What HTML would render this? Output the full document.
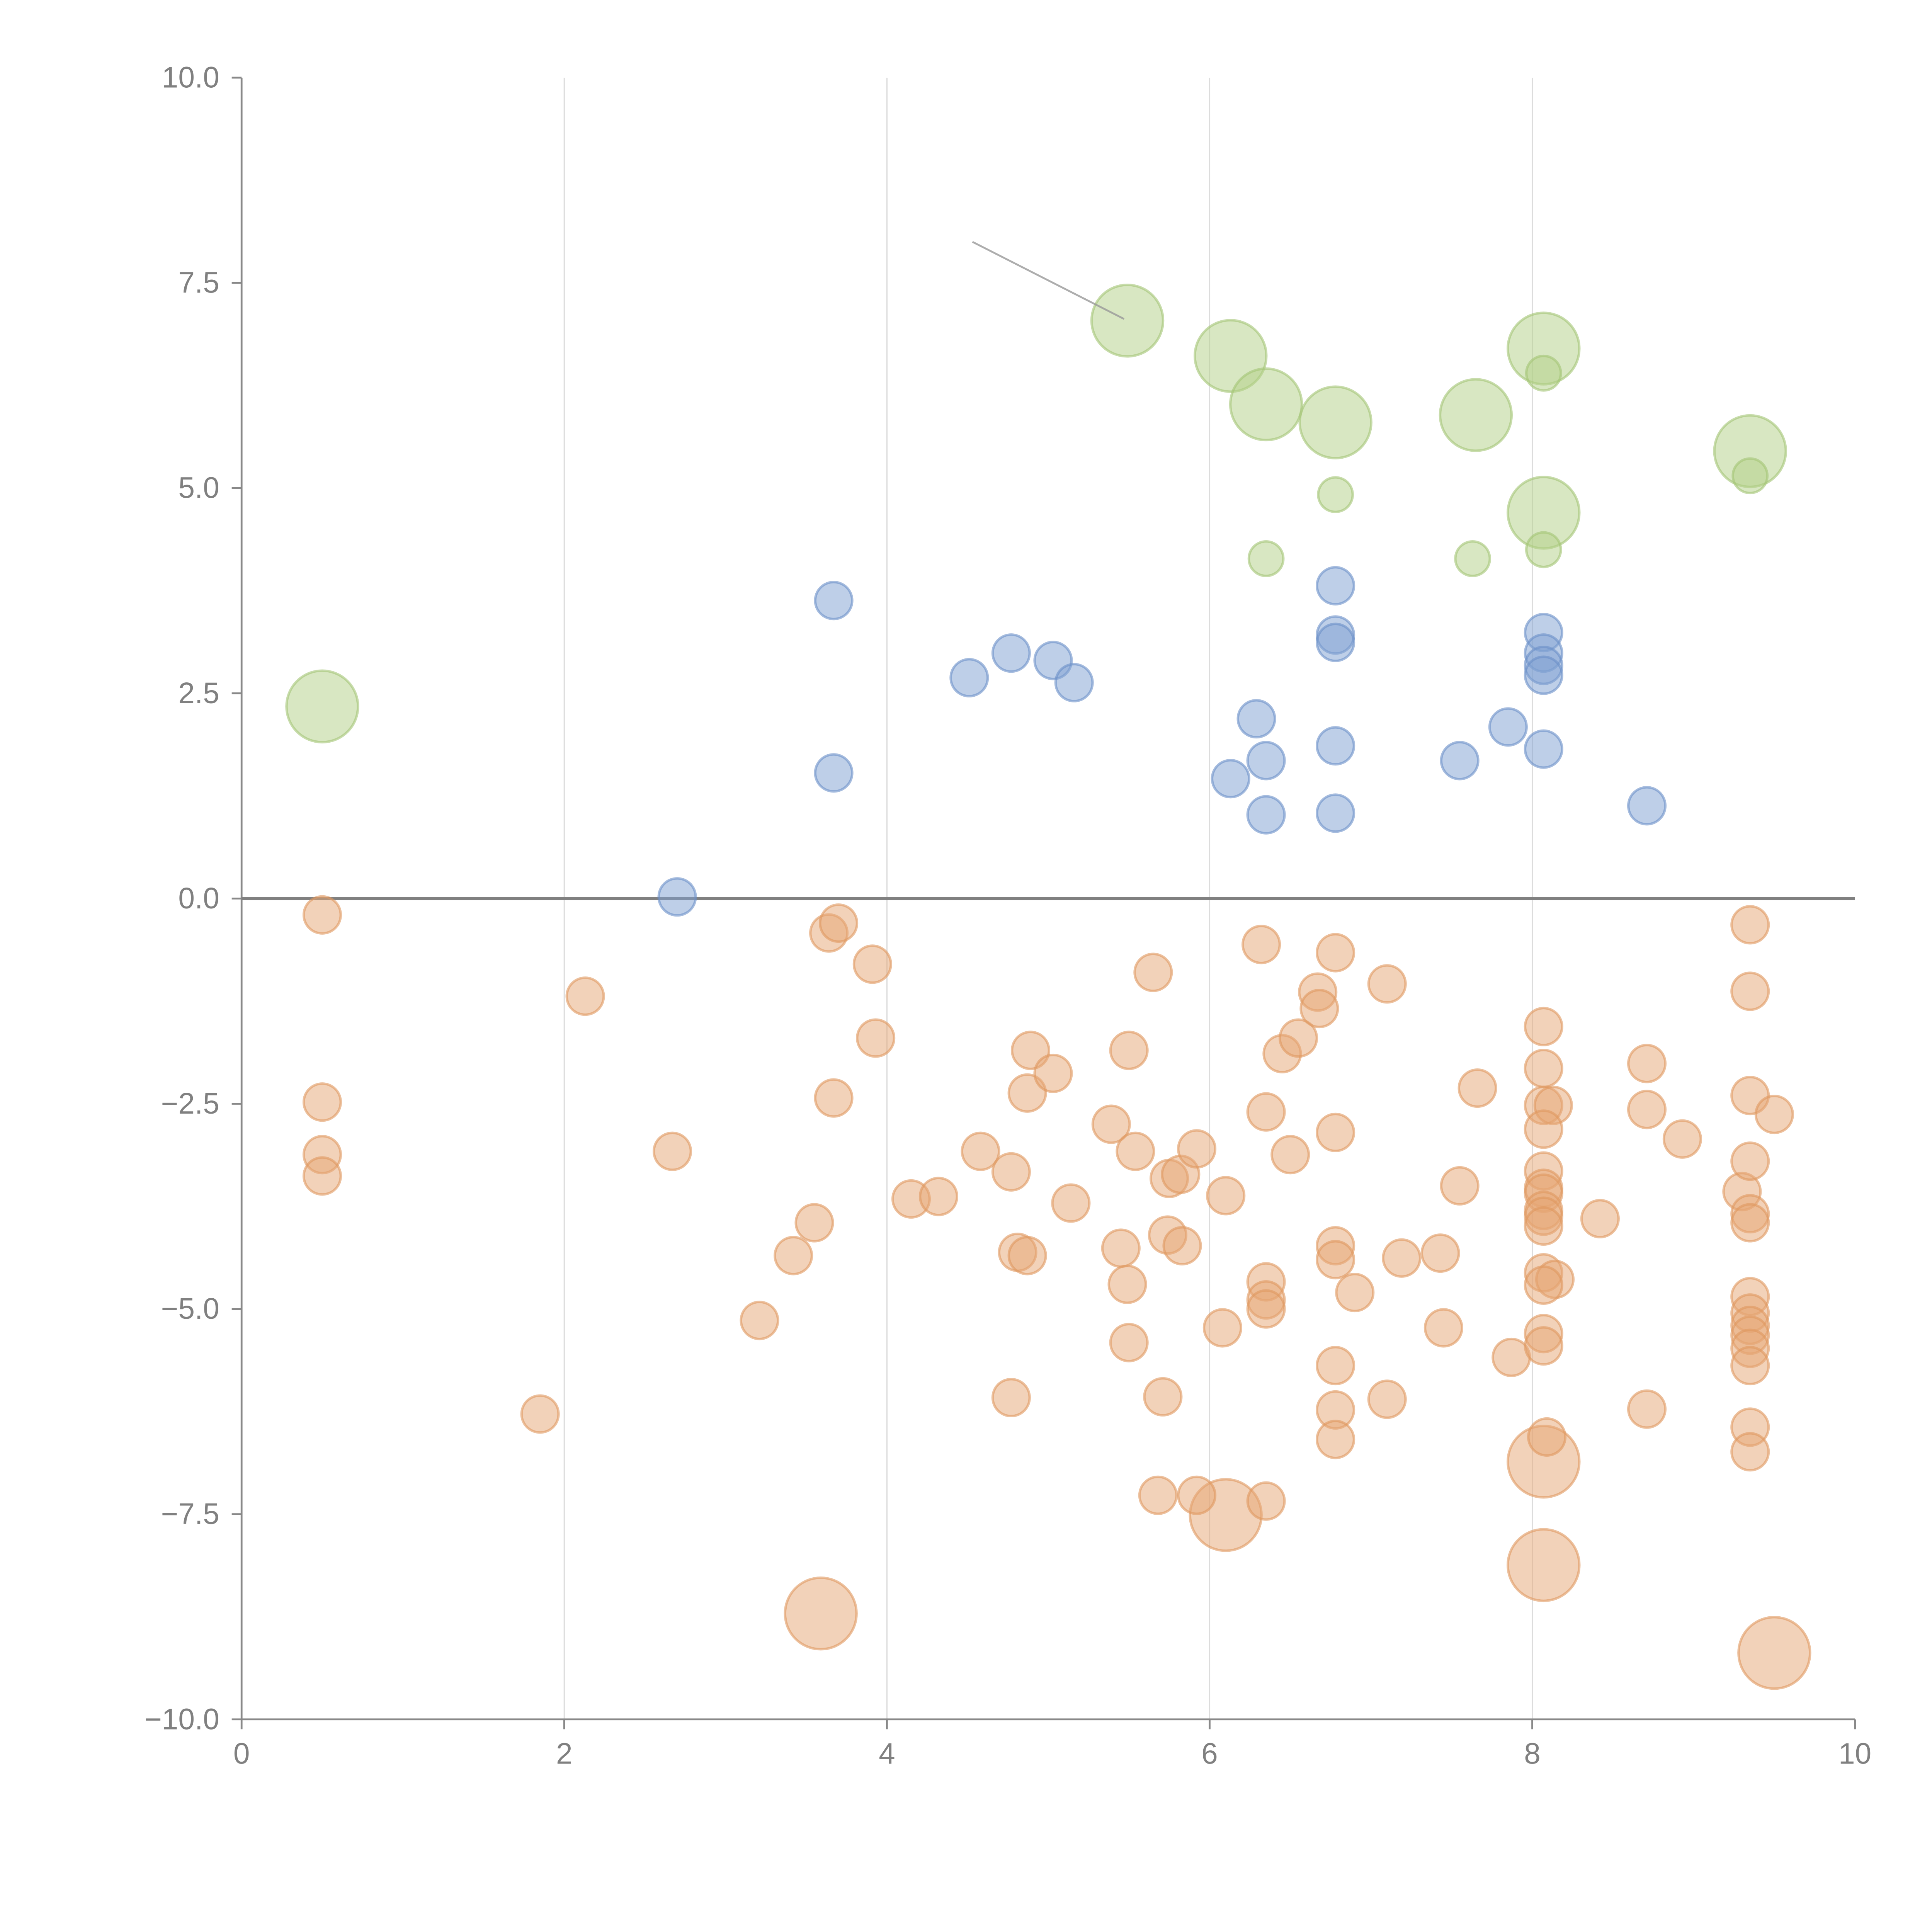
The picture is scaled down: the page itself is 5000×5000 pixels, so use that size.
<!DOCTYPE html>
<html><head><meta charset="utf-8"><style>html,body{margin:0;padding:0;background:#fff}svg{display:block}</style></head>
<body>
<svg id="chart" width="5000" height="5000" viewBox="0 0 1567.5 1567.5" xmlns="http://www.w3.org/2000/svg" font-family="Liberation Sans, Arial, sans-serif">
<g id="grid"></g>
<g id="axes"></g>
<g id="marks"></g>
</svg>
<script>
const xTicks = [0, 2, 4, 6, 8, 10];
const yTicks = [-10, -7.5, -5, -2.5, 0, 2.5, 5, 7.5, 10];
const yTickLabels = ["\u221210.0", "\u22127.5", "\u22125.0", "\u22122.5", "0.0", "2.5", "5.0", "7.5", "10.0"];
const greenBigX = [5.49, 6.13, 6.35, 6.78, 7.65, 8.07, 9.35, 8.07, 0.50];
const greenBigY = [7.04, 6.61, 6.02, 5.80, 5.89, 6.70, 5.45, 4.70, 2.34];
const greenX = [8.07, 6.78, 6.35, 7.63, 8.07, 9.35];
const greenY = [6.40, 4.92, 4.14, 4.14, 4.25, 5.15];
const blueX = [3.67,3.67,2.70,4.51,4.77,5.03,5.16,6.29,6.13,6.35,6.35,6.78,6.78,6.78,6.78,6.78,7.55,7.85,8.07,8.07,8.07,8.07,8.07,8.71];
const blueY = [3.63,1.53,0.02,2.69,2.99,2.90,2.63,2.19,1.46,1.68,1.02,3.81,3.21,3.12,1.86,1.04,1.68,2.09,3.24,2.99,2.84,2.72,1.82,1.13];
const orangeBigX = [3.59, 6.10, 8.07, 8.07, 9.50];
const orangeBigY = [-8.71, -7.51, -6.86, -8.12, -9.19];
const orangeX = [0.50,0.50,0.50,0.50,2.13,2.67,1.85,3.21,3.42,3.55,3.64,3.70,3.91,3.93,3.67,4.15,4.32,4.58,4.77,4.89,4.87,5.03,4.81,4.87,5.14,4.77,5.39,5.50,5.54,5.65,5.45,5.49,5.50,5.71,5.68,5.75,5.82,5.92,5.74,5.83,6.10,6.08,5.92,6.32,6.35,6.35,6.35,6.35,6.35,6.50,6.45,6.55,6.67,6.68,6.78,6.78,6.78,6.78,6.78,6.78,6.78,6.90,7.10,7.10,7.19,7.43,7.45,7.55,7.66,7.87,8.07,8.07,8.07,8.13,8.07,8.07,8.07,8.07,8.07,8.07,8.07,8.07,8.14,8.07,8.07,8.07,8.09,8.42,8.71,8.71,8.71,8.93,9.30,9.35,9.35,9.35,9.35,9.35,9.35,9.50,9.35,9.35,9.35,9.35,9.35,9.35,9.35,9.35];
const orangeY = [-0.20,-2.48,-3.12,-3.38,-1.19,-3.08,-6.28,-5.14,-4.35,-3.95,-0.42,-0.30,-0.80,-1.70,-2.43,-3.66,-3.63,-3.08,-3.33,-1.85,-2.37,-2.13,-4.31,-4.35,-3.71,-6.08,-2.75,-1.85,-3.08,-0.90,-4.26,-4.70,-5.41,-6.07,-7.27,-3.41,-3.36,-3.05,-4.10,-4.23,-3.62,-5.23,-7.27,-0.56,-2.60,-4.67,-4.89,-5.00,-7.34,-3.12,-1.89,-1.70,-1.14,-1.34,-0.66,-2.85,-4.23,-4.40,-5.69,-6.23,-6.59,-4.80,-1.04,-6.10,-4.38,-4.32,-5.23,-3.50,-2.31,-5.59,-1.56,-2.07,-2.52,-2.52,-2.81,-3.32,-3.53,-3.59,-3.80,-3.87,-3.99,-4.56,-4.64,-4.71,-5.30,-5.45,-6.56,-3.90,-2.01,-2.57,-6.22,-2.93,-3.57,-0.32,-1.13,-2.40,-3.20,-3.84,-3.95,-2.63,-4.85,-5.05,-5.20,-5.32,-5.48,-5.69,-6.44,-6.74];
const annotX = [4.53, 5.47];
const annotY = [8.0, 7.06];

const NS = "http://www.w3.org/2000/svg";
const X0 = 196, X1 = 1505, Y0 = 1395, Y1 = 63;
const sx = v => X0 + (v - 0) / 10 * (X1 - X0);
const sy = v => Y0 - (v + 10) / 20 * (Y0 - Y1);
function mk(tag, attrs, parent) {
  const e = document.createElementNS(NS, tag);
  for (const k in attrs) e.setAttribute(k, attrs[k]);
  parent.appendChild(e);
  return e;
}
const grid = document.getElementById('grid');
const axes = document.getElementById('axes');
const marks = document.getElementById('marks');

xTicks.forEach(t => {
  if (t > 0 && t < 10) {
    const g = mk('line', {x1: sx(t), x2: sx(t), y1: Y1, y2: Y0, stroke: '#dcdcdc', 'stroke-width': 1}, grid);
    
    
  }
  const tk = mk('line', {x1: sx(t), x2: sx(t), y1: Y0, y2: Y0 + 8, stroke: '#888', 'stroke-width': 1.5}, axes);
  
  
  const lb = mk('text', {x: sx(t), y: Y0 + 36, 'text-anchor': 'middle', 'font-size': 24, fill: '#808080'}, axes);
  lb.textContent = t;
  
  
});
yTicks.forEach((t, i) => {
  const tk = mk('line', {x1: X0 - 8, x2: X0, y1: sy(t), y2: sy(t), stroke: '#888', 'stroke-width': 1.5}, axes);
  
  
  const lb = mk('text', {x: X0 - 18, y: sy(t) + 8, 'text-anchor': 'end', 'font-size': 24, fill: '#808080'}, axes);
  lb.textContent = yTickLabels[i];
  
  
});
const ya = mk('line', {x1: X0, x2: X0, y1: Y1, y2: Y0, stroke: '#888', 'stroke-width': 1.5}, axes);


const xa = mk('line', {x1: X0, x2: X1, y1: Y0, y2: Y0, stroke: '#888', 'stroke-width': 1.5}, axes);


const zl = mk('line', {x1: X0, x2: X1, y1: sy(0), y2: sy(0), stroke: '#808080', 'stroke-width': 2.5}, axes);



function drawSeries(xs, ys, r, fill, stroke, name) {
  xs.forEach((v, i) => {
    const c = mk('circle', {cx: sx(v), cy: sy(ys[i]), r: r, fill: fill, 'fill-opacity': 0.5, stroke: stroke, 'stroke-opacity': 0.6, 'stroke-width': 2}, marks);
    
    
  });
}
drawSeries(greenBigX, greenBigY, 29, '#b2cf85', '#a3c575', 'bubble-green-large');
drawSeries(greenX, greenY, 14, '#b2cf85', '#a3c575', 'bubble-green');
drawSeries(blueX, blueY, 15, '#7ea0d2', '#6a90c8', 'bubble-blue');
drawSeries(orangeBigX, orangeBigY, 29, '#e6a673', '#e0985f', 'bubble-orange-large');
drawSeries(orangeX, orangeY, 15, '#e6a673', '#e0985f', 'bubble-orange');

const an = mk('line', {x1: sx(annotX[0]), y1: sy(annotY[0]), x2: sx(annotX[1]), y2: sy(annotY[1]), stroke: '#999', 'stroke-width': 1.5, 'stroke-opacity': 0.8}, marks);


</script>
</body></html>
